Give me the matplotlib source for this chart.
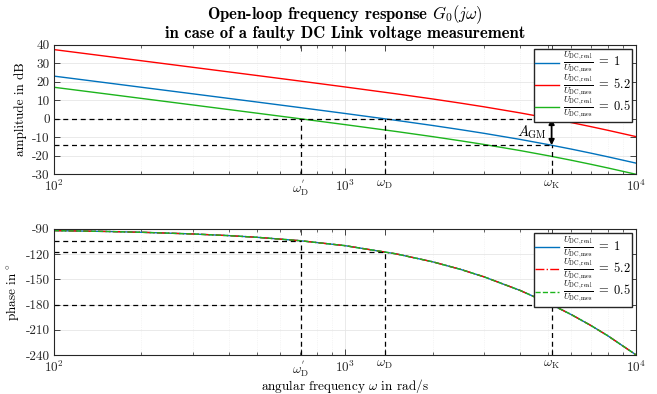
"""
Bode plot of the open loop with a faulty DC link voltage measurement
"""
import matplotlib
matplotlib.use('Agg')
from matplotlib import pyplot as plt
from matplotlib.ticker import FixedLocator, NullFormatter

# values
OMEGA = [100, 150, 200, 300, 400, 500, 700, 1000, 1500, 2000, 2500, 3000,
         4000, 5000, 6000, 7000, 8000, 10000]
AMP_1 = [23.03, 19.51, 17.00, 13.47, 10.96, 9.01, 6.05, 2.86, -0.86, -3.63,
         -5.90, -7.85, -11.16, -13.96, -16.40, -18.58, -20.54, -23.96]
AMP_52 = [37.35, 33.83, 31.32, 27.79, 25.28, 23.33, 20.37, 17.18, 13.46, 10.69,
          8.42, 6.47, 3.16, 0.36, -2.08, -4.26, -6.22, -9.64]
AMP_05 = [17.01, 13.49, 10.98, 7.45, 4.94, 2.99, 0.03, -3.16, -6.88, -9.65,
          -11.92, -13.87, -17.18, -19.98, -22.42, -24.60, -26.56, -29.98]
PHASE = [-92.0, -93.0, -94.0, -96.0, -98.0, -100.0, -104.0, -109.9, -119.7,
         -129.1, -138.2, -146.9, -163.2, -178.2, -192.0, -204.9, -217.1, -239.8]

W_D2 = 705      # omega'_D, crossover for ratio 0.5
W_D = 1370      # omega_D, crossover for ratio 1
W_K = 5130      # omega_K, crossover for ratio 5.2
A_GM = -14.3
PH_D2 = -104.1
PH_D = -117.1
PH_K = -180.0

AMP_TICKS = [-30, -20, -10, 0, 10, 20, 30, 40]
PHASE_TICKS = [-240, -210, -180, -150, -120, -90]

LABELS = [r'$\frac{U_{\mathrm{DC,real}}}{U_{\mathrm{DC,mes}}}\;=\;1$',
          r'$\frac{U_{\mathrm{DC,real}}}{U_{\mathrm{DC,mes}}}\;=\;5.2$',
          r'$\frac{U_{\mathrm{DC,real}}}{U_{\mathrm{DC,mes}}}\;=\;0.5$']
COLOURS = ['#0072bd', '#ff0000', '#1cb41c']

plt.rcParams['font.family'] = 'serif'
plt.rcParams['font.serif'] = ['cmr10']
plt.rcParams['mathtext.fontset'] = 'cm'
plt.rcParams['axes.unicode_minus'] = False
plt.rcParams['font.size'] = 9.5

fig = plt.figure(figsize=(6.57, 3.94), dpi=100)
ax1 = fig.add_axes([0.082, 0.5576, 0.886, 0.329])
ax2 = fig.add_axes([0.082, 0.099, 0.886, 0.320])

XT = [100, W_D2, 1000, W_D, W_K, 10000]
XL = [r'$10^2$', r"$\omega_{\mathrm{D}}^{'}$", r'$10^3$', r'$\omega_{\mathrm{D}}$',
      r'$\omega_{\mathrm{K}}$', r'$10^4$']
LEG = dict(loc='upper right', fontsize=9, fancybox=False, framealpha=1,
           edgecolor='#262626', handlelength=1.9, borderpad=0.1,
           labelspacing=-0.3, handletextpad=0.3, borderaxespad=0.35)


def style_axis(ax, yticks):
    ax.set_xscale('log')
    ax.set_xlim(100, 10000)
    ax.xaxis.set_major_locator(FixedLocator(XT))
    ax.set_xticklabels(XL)
    ax.xaxis.set_minor_locator(FixedLocator([m * d for d in (100, 1000)
                                             for m in range(2, 10)]))
    ax.xaxis.set_minor_formatter(NullFormatter())
    ax.set_ylim(yticks[0], yticks[-1])
    ax.set_yticks(yticks)
    ax.set_yticklabels([str(v) for v in yticks])
    ax.tick_params(which='both', direction='in', top=True, right=True,
                   colors='#262626', labelcolor='#262626', labelsize=9.5)
    ax.tick_params(which='major', length=4, width=0.6, pad=3)
    ax.tick_params(which='minor', length=2.5, width=0.5)
    ax.grid(True, which='major', axis='y', color='#e6e6e6', linewidth=0.6)
    ax.grid(True, which='minor', axis='x', color='#ececec', linewidth=0.5,
            linestyle=':')
    ax.axvline(1000, color='#e6e6e6', linewidth=0.6, zorder=0)
    for sp in ax.spines.values():
        sp.set_color('#262626')
        sp.set_linewidth(0.8)


# amplitude plot
style_axis(ax1, AMP_TICKS)
for amp, col, lab in zip([AMP_1, AMP_52, AMP_05], COLOURS, LABELS):
    ax1.plot(OMEGA, amp, color=col, linewidth=1.0, label=lab)
DASH = dict(color='black', linestyle='--', linewidth=0.9, dashes=(4, 3))
ax1.plot([100, W_K], [0, 0], **DASH)
ax1.plot([100, W_K], [A_GM, A_GM], **DASH)
ax1.plot([W_D2, W_D2], [-30, 0], **DASH)
ax1.plot([W_D, W_D], [-30, 0], **DASH)
ax1.plot([W_K, W_K], [-30, A_GM], **DASH)
ax1.annotate('', xy=(W_K, A_GM), xytext=(W_K, 0),
             arrowprops=dict(arrowstyle='<|-|>', color='black', lw=1.3,
                             mutation_scale=8, shrinkA=0, shrinkB=0))
ax1.text(W_K / 1.04, A_GM / 2, r'$A_{\mathrm{GM}}$', ha='right', va='center',
         fontsize=10.5)
ax1.set_ylabel('amplitude in dB', fontsize=9.5)
ax1.yaxis.set_label_coords(-0.047, 0.5)
ax1.legend(**LEG)
ax1.set_title('Open-loop frequency response $G_0(j\\omega)$\n'
              'in case of a faulty DC Link voltage measurement',
              fontfamily='cmb10', fontsize=12, pad=5, linespacing=0.95)

# phase plot
style_axis(ax2, PHASE_TICKS)
for col, lab, ls in zip(COLOURS, LABELS, ['-', '-.', '--']):
    ax2.plot(OMEGA, PHASE, color=col, linewidth=1.0, linestyle=ls, label=lab)
ax2.plot([100, W_D2], [PH_D2, PH_D2], **DASH)
ax2.plot([100, W_D], [PH_D, PH_D], **DASH)
ax2.plot([100, W_K], [PH_K, PH_K], **DASH)
ax2.plot([W_D2, W_D2], [-240, PH_D2], **DASH)
ax2.plot([W_D, W_D], [-240, PH_D], **DASH)
ax2.plot([W_K, W_K], [-240, PH_K], **DASH)
ax2.set_ylabel(r'phase in$\,^\circ$', fontsize=9.5)
ax2.yaxis.set_label_coords(-0.057, 0.5)
ax2.set_xlabel(r'angular frequency $\omega$ in rad/s', fontsize=9.5)
ax2.xaxis.set_label_coords(0.5, -0.175)
ax2.legend(**LEG)

plt.savefig('out.png', dpi=100)
